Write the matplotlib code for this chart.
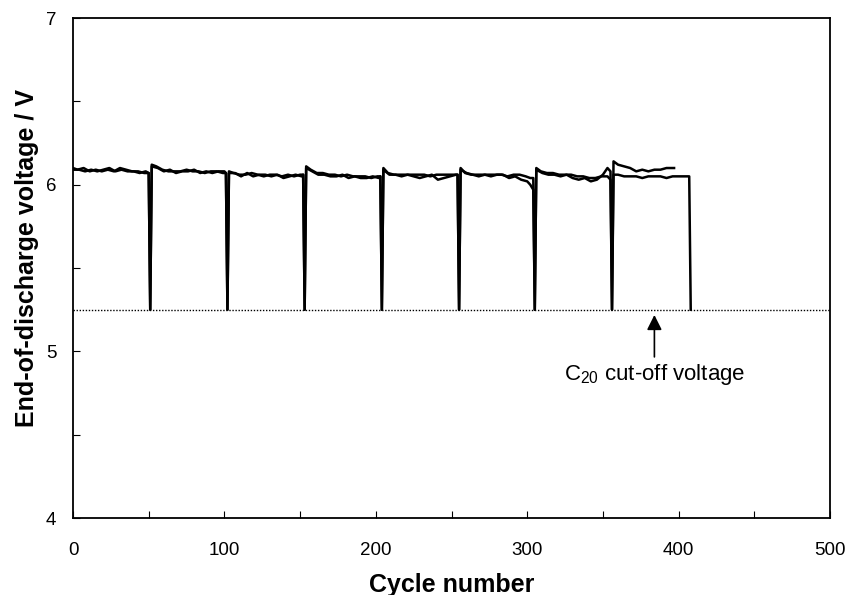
import matplotlib
matplotlib.use("Agg")
import matplotlib.pyplot as plt
from matplotlib.ticker import MultipleLocator

plt.rcParams['font.family'] = ['Liberation Sans', 'DejaVu Sans']
plt.rcParams['mathtext.fontset'] = 'custom'
plt.rcParams['mathtext.rm'] = 'Liberation Sans'
plt.rcParams['mathtext.it'] = 'Liberation Sans:italic'
plt.rcParams['mathtext.bf'] = 'Liberation Sans:bold'

# Series A (runs to cycle ~408, ends with a drop to cut-off)
cycles_a = [0, 4, 8, 12, 16, 20, 24, 28, 32, 36, 40, 44, 48, 50, 51,
            52, 55, 59, 63, 67, 71, 75, 79, 83, 87, 91, 95, 99, 101, 102,
            103, 106, 110, 114, 118, 122, 126, 130, 134, 138, 142, 146, 150, 152, 153,
            154, 157, 161, 165, 169, 173, 177, 181, 185, 189, 193, 197, 201, 203, 204,
            205, 208, 212, 216, 220, 224, 228, 232, 236, 240, 244, 248, 252, 254, 255,
            256, 259, 263, 267, 271, 275, 279, 283, 287, 291, 295, 299, 302, 304, 305,
            306, 309, 313, 317, 321, 325, 329, 333, 337, 341, 345, 349, 353, 355, 356,
            357, 360, 364, 368, 372, 376, 380, 384, 388, 392, 396, 400, 404, 407, 408]
volt_a = [6.09, 6.09, 6.08, 6.09, 6.08, 6.09, 6.10, 6.08, 6.09, 6.08, 6.08, 6.07, 6.08, 6.07, 5.25,
          6.12, 6.11, 6.09, 6.08, 6.08, 6.08, 6.09, 6.08, 6.08, 6.07, 6.08, 6.08, 6.07, 6.07, 5.25,
          6.08, 6.07, 6.06, 6.06, 6.07, 6.06, 6.05, 6.06, 6.06, 6.05, 6.06, 6.05, 6.06, 6.06, 5.25,
          6.11, 6.09, 6.07, 6.07, 6.06, 6.06, 6.05, 6.06, 6.05, 6.05, 6.05, 6.04, 6.05, 6.05, 5.25,
          6.10, 6.07, 6.06, 6.06, 6.06, 6.06, 6.06, 6.06, 6.05, 6.06, 6.06, 6.06, 6.06, 6.06, 5.25,
          6.10, 6.07, 6.06, 6.06, 6.06, 6.06, 6.06, 6.06, 6.05, 6.06, 6.06, 6.05, 6.04, 6.04, 5.25,
          6.10, 6.08, 6.07, 6.07, 6.06, 6.06, 6.06, 6.05, 6.05, 6.04, 6.04, 6.05, 6.05, 6.03, 5.25,
          6.06, 6.06, 6.05, 6.05, 6.05, 6.04, 6.05, 6.05, 6.05, 6.04, 6.05, 6.05, 6.05, 6.05, 5.25]

# Series B (runs to cycle ~397)
cycles_b = [0, 3, 7, 11, 15, 19, 23, 27, 31, 35, 39, 43, 47, 50, 51,
            52, 56, 60, 64, 68, 72, 76, 80, 84, 88, 92, 96, 100, 101, 102,
            103, 107, 111, 115, 119, 123, 127, 131, 135, 139, 143, 147, 151, 152, 153,
            154, 158, 162, 166, 170, 174, 178, 182, 186, 190, 194, 198, 202, 203, 204,
            205, 209, 213, 217, 221, 225, 229, 233, 237, 241, 245, 249, 253, 254, 255,
            256, 260, 264, 268, 272, 276, 280, 284, 288, 292, 296, 300, 302, 304, 305,
            306, 310, 314, 318, 322, 326, 330, 334, 338, 342, 346, 350, 353, 355, 356,
            357, 360, 364, 368, 372, 376, 380, 384, 388, 392, 397]
volt_b = [6.10, 6.09, 6.10, 6.08, 6.09, 6.08, 6.09, 6.08, 6.10, 6.09, 6.08, 6.08, 6.07, 6.07, 5.25,
          6.11, 6.10, 6.08, 6.09, 6.07, 6.08, 6.08, 6.09, 6.07, 6.08, 6.07, 6.08, 6.08, 6.07, 5.25,
          6.07, 6.07, 6.05, 6.07, 6.05, 6.06, 6.06, 6.05, 6.06, 6.04, 6.05, 6.06, 6.05, 6.06, 5.25,
          6.10, 6.08, 6.06, 6.06, 6.05, 6.05, 6.06, 6.04, 6.05, 6.04, 6.04, 6.05, 6.04, 6.05, 5.25,
          6.09, 6.06, 6.06, 6.05, 6.06, 6.05, 6.04, 6.05, 6.06, 6.03, 6.04, 6.05, 6.06, 6.06, 5.25,
          6.09, 6.07, 6.06, 6.05, 6.06, 6.05, 6.06, 6.06, 6.04, 6.05, 6.03, 6.02, 6.00, 5.97, 5.25,
          6.09, 6.07, 6.06, 6.06, 6.05, 6.06, 6.04, 6.03, 6.04, 6.02, 6.03, 6.06, 6.10, 6.08, 5.25,
          6.14, 6.12, 6.11, 6.10, 6.08, 6.09, 6.08, 6.09, 6.09, 6.10, 6.10]

cutoff_voltage = 5.25
x_ticks = [0, 100, 200, 300, 400, 500]
y_ticks = [4, 5, 6, 7]

fig = plt.figure(figsize=(8.48, 5.95), dpi=100)
ax = fig.add_axes([0.0861, 0.1294, 0.8927, 0.8403])

ax.plot(cycles_a, volt_a, color='black', lw=1.8)
ax.plot(cycles_b, volt_b, color='black', lw=1.8)
ax.axhline(cutoff_voltage, color='black', lw=1.0, ls=(0, (1, 1.2)))

ax.set_xlim(0, 500)
ax.set_ylim(4, 7)
ax.set_xticks(x_ticks)
ax.set_yticks(y_ticks)
ax.xaxis.set_minor_locator(MultipleLocator(50))
ax.yaxis.set_minor_locator(MultipleLocator(0.5))
ax.tick_params(axis='both', which='both', direction='in', length=5, width=0.8,
               top=False, right=False)
ax.tick_params(axis='x', which='major', labelsize=13.5, pad=17)
ax.tick_params(axis='y', which='major', labelsize=13.5, pad=12)
for s in ax.spines.values():
    s.set_linewidth(1.3)

ax.set_xlabel('Cycle number', fontsize=18, fontweight='bold', labelpad=10)
ax.set_ylabel('End-of-discharge voltage / V', fontsize=18, fontweight='bold')
ax.yaxis.set_label_coords(-0.045, 0.52)

ax.annotate('', xy=(384, 5.235), xytext=(384, 4.95),
            arrowprops=dict(arrowstyle='-|>,head_length=0.9,head_width=0.45',
                            color='black', lw=1.2))
ax.text(384, 4.86, 'C$_{20}$ cut-off voltage', fontsize=16, ha='center', va='center')

fig.savefig('out.png', dpi=100)
